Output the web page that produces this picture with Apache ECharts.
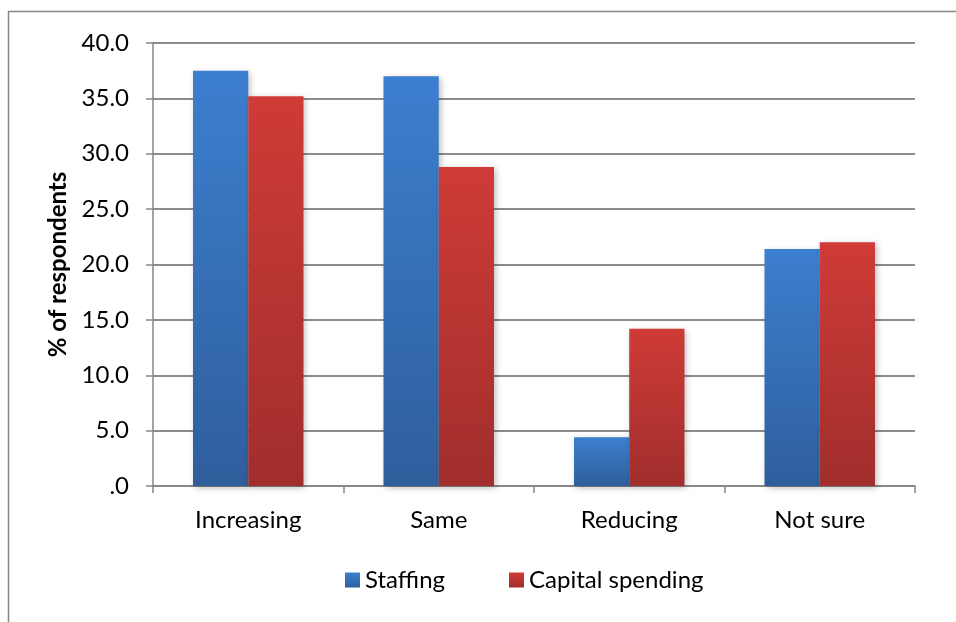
<!DOCTYPE html>
<html>
<head>
<meta charset="utf-8">
<script src="https://cdn.jsdelivr.net/npm/echarts@6/dist/echarts.min.js"></script>
<style>
  html, body { margin: 0; padding: 0; background: #fff; }
  #chart { width: 956px; height: 622px; }
</style>
</head>
<body>
<div id="chart"></div>
<script>
var categories = ["Increasing", "Same", "Reducing", "Not sure"];
var staffing = [37.5, 37.0, 4.4, 21.4];
var capitalSpending = [35.2, 28.8, 14.2, 22.0];
var seriesNames = ["Staffing", "Capital spending"];

var echart = echarts.init(document.getElementById("chart"));

function grad(top, bottom) {
  return new echarts.graphic.LinearGradient(0, 0, 0, 1, [
    { offset: 0, color: top },
    { offset: 1, color: bottom },
  ]);
}

var option = {
  animation: false,
  textStyle: { fontFamily: "Lato" },
  graphic: [
    {
      type: "rect",
      shape: { x: 8.5, y: 11.5, width: 1000, height: 700 },
      style: { fill: "none", stroke: "#868686", lineWidth: 1.5 },
      silent: true,
    },
  ],
  grid: {
    left: 153,
    right: 41,
    top: 43,
    bottom: 136,
  },
  legend: {
    left: 340,
    top: 563,
    itemWidth: 15,
    itemHeight: 15,
    itemGap: 64,
    icon: "rect",
    textStyle: { fontSize: 24, color: "#000", fontFamily: "Lato" },
    data: seriesNames,
  },
  xAxis: {
    type: "category",
    data: categories,
    axisLine: { lineStyle: { color: "#868686", width: 1.5 } },
    axisTick: { show: true, length: 7, lineStyle: { color: "#868686", width: 1.5 } },
    axisLabel: { fontSize: 24, color: "#000", margin: 22 },
  },
  yAxis: {
    type: "value",
    min: 0,
    max: 40,
    interval: 5,
    name: "% of respondents",
    nameLocation: "middle",
    nameGap: 80,
    nameTextStyle: { fontSize: 24, fontWeight: "bold", color: "#000" },
    axisLine: { show: true, lineStyle: { color: "#868686", width: 1.5 } },
    axisTick: { show: true, length: 7, lineStyle: { color: "#868686", width: 1.5 } },
    splitLine: { lineStyle: { color: "#8c8c8c", width: 2 } },
    axisLabel: {
      fontSize: 24,
      color: "#000",
      margin: 24,
      formatter: function (v) {
        return v === 0 ? ".0" : v.toFixed(1);
      },
    },
  },
  series: [
    {
      name: seriesNames[0],
      type: "bar",
      data: staffing,
      barGap: "0%",
      barCategoryGap: "42%",
      itemStyle: {
        color: grad("#3C7FCF", "#2F5E9C"),
        shadowColor: "rgba(0,0,0,0.25)",
        shadowBlur: 6,
        shadowOffsetX: 2,
        shadowOffsetY: 2,
      },
    },
    {
      name: seriesNames[1],
      type: "bar",
      data: capitalSpending,
      barGap: "0%",
      barCategoryGap: "42%",
      itemStyle: {
        color: grad("#CF3B37", "#A02E2C"),
        shadowColor: "rgba(0,0,0,0.25)",
        shadowBlur: 6,
        shadowOffsetX: 2,
        shadowOffsetY: 2,
      },
    },
  ],
};
echart.setOption(option);
</script>
</body>
</html>
